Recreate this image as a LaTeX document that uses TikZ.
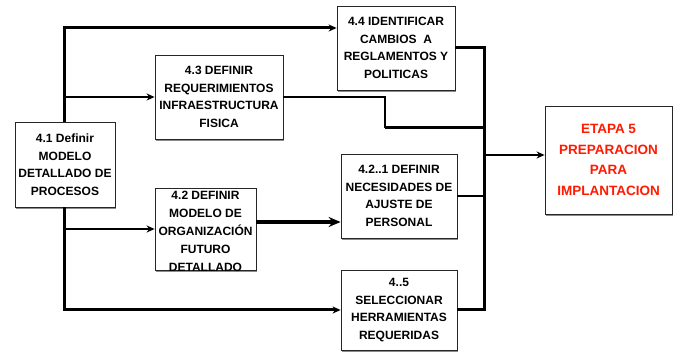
\documentclass[tikz,border=0pt]{standalone}
\usepackage{fontspec}
\setmainfont{Liberation Sans}
\usetikzlibrary{arrows.meta,shadows}
\definecolor{shadowgray}{HTML}{8c8c8c}
\definecolor{etapared}{HTML}{ff1a00}

\begin{document}
\begin{tikzpicture}[x=1pt,y=-1pt,>={Stealth[length=8pt,width=7pt,inset=2.5pt]}]
    \useasboundingbox (0,0) rectangle (682,352);
    \begin{scope}[all/.style={draw=black!85,fill=white,line width=0.8pt,align=center,inner sep=0pt,font=\fontsize{12}{17.5}\selectfont\bfseries,general shadow={fill=shadowgray,shadow xshift=1pt,shadow yshift=-2pt}},line join=miter]
        \coordinate (t1) at (64, 28);
        \coordinate (t2) at (64, 310);
        \coordinate (bt) at (484, 48);
        \coordinate (bm) at (484, 155);
        \coordinate (bb) at (484, 310);
        \coordinate (s1) at (385, 97);
        \coordinate (s2) at (385, 128);
        \node[all, minimum width=100pt, minimum height=85pt] (b0) at (65, 164.5) {4.1 Definir\\MODELO\\DETALLADO DE\\PROCESOS};
        \node[all, minimum width=128pt, minimum height=84pt] (b1) at (219, 97) {4.3 DEFINIR\\REQUERIMIENTOS\\INFRAESTRUCTURA\\FISICA};
        \node[all, minimum width=101pt, minimum height=82pt] (b2) at (205.5, 229) {};
        \node[align=center, inner sep=0pt, font=\fontsize{12}{18}\selectfont\bfseries] (b2t) at (205.5, 231) {4.2 DEFINIR\\MODELO DE\\ORGANIZACIÓN\\FUTURO\\DETALLADO};
        \node[all, minimum width=118pt, minimum height=84pt] (b3) at (396, 48) {4.4 IDENTIFICAR\\CAMBIOS\ \ A\\REGLAMENTOS Y\\POLITICAS};
        \node[all, minimum width=116pt, minimum height=84pt] (b4) at (399, 196) {4.2..1 DEFINIR\\NECESIDADES DE\\AJUSTE DE\\PERSONAL};
        \node[all, minimum width=116pt, minimum height=80pt] (b5) at (399, 310) {4..5\\SELECCIONAR\\HERRAMIENTAS\\REQUERIDAS};
        \node[all, text=etapared, font=\fontsize{13.5}{20.5}\selectfont\bfseries, minimum width=127pt, minimum height=108pt] (b6) at (608.5, 160) {ETAPA 5\\PREPARACION\\PARA\\IMPLANTACION};
        \begin{scope}[line width=3pt]
        \draw[->] (b0.north -| t1) -- (t1) -- (t1 -| b3.west);
        \draw[->] (b0.south -| t2) -- (t2) -- (t2 -| b5.west);
        \draw (b3.east) -- (bt) -- (bb) -- (b5.east);
        \draw (s2) -- (s2 -| bt);
        \end{scope}
        \begin{scope}[line width=2pt]
        \draw[->] (t1 |- b1.west) -- (b1.west);
        \draw[->] (t1 |- b2.west) -- (b2.west);
        \end{scope}
        \draw[line width=4pt, -{Stealth[length=12pt,width=10pt,inset=4pt]}] ([yshift=7pt]b2.east) -- ([yshift=7pt]b2.east -| b4.west);
        \begin{scope}[line width=1.5pt]
        \draw (b1.east) -- (s1) -- (s2);
        \draw (b4.east) -- (b4.east -| bt);
        \draw[->] (bm) -- (bm -| b6.west);
        \end{scope}
    \end{scope}
\end{tikzpicture}
\end{document}
